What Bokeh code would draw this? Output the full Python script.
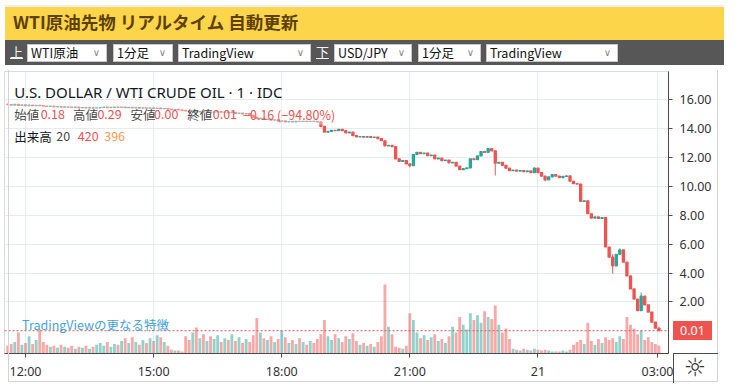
import numpy as np
from bokeh.plotting import figure
from bokeh.models import (Range1d, FixedTicker, PrintfTickFormatter, Label, Span,
                          BoxAnnotation, Div, ColumnDataSource)
from bokeh.layouts import column
from bokeh.embed import file_html
from bokeh.resources import INLINE

# ---------------- data ----------------
close = [
    15.65, 15.62, 15.66, 15.60, 15.63, 15.58, 15.61, 15.57, 15.60, 15.58,
    15.55, 15.52, 15.54, 15.50, 15.51, 15.47, 15.50, 15.48, 15.45, 15.47,
    15.43, 15.45, 15.42, 15.44, 15.41, 15.43, 15.45, 15.47, 15.44, 15.46,
    15.48, 15.45, 15.47, 15.44, 15.46, 15.43, 15.45, 15.41, 15.43, 15.40,
    15.42, 15.38, 15.40, 15.37, 15.38, 15.34, 15.30, 15.32, 15.28, 15.25,
    15.22, 15.19, 15.21, 15.15, 15.17, 15.13, 15.15, 15.12, 15.14, 15.16,
    15.12, 15.14, 15.10, 15.12, 15.05, 15.07, 15.00, 15.02, 14.90, 14.76,
    14.68, 14.70, 14.62, 14.64, 14.58, 14.60, 14.50, 14.52, 14.45, 14.47,
    14.45, 14.50, 14.48, 14.50, 14.49, 14.50, 14.48, 14.45, 14.15, 13.75,
    13.80, 13.87, 13.84, 13.93, 13.85, 13.70, 13.74, 13.50, 13.42, 13.44,
    13.40, 13.43, 13.39, 13.41, 13.30, 13.15, 12.80, 12.84, 12.75, 11.90,
    11.72, 11.78, 11.55, 11.42, 12.20, 12.35, 12.25, 12.30, 12.12, 12.16,
    11.90, 11.95, 11.78, 11.82, 11.62, 11.66, 11.40, 11.15, 11.22, 11.27,
    11.90, 11.85, 12.10, 12.40, 12.35, 12.60, 12.45, 11.60, 11.66, 11.45,
    11.25, 11.08, 11.12, 11.05, 11.09, 11.02, 11.06, 10.95, 11.25, 10.95,
    10.70, 10.45, 10.65, 10.80, 10.70, 10.60, 10.68, 10.72, 10.35, 10.18,
    10.15, 8.95, 9.00, 8.10, 7.80, 7.88, 7.78, 7.84, 5.80, 5.10,
    4.50, 5.30, 5.60, 4.75, 3.80, 2.90, 2.20, 1.40, 2.40, 1.80,
    1.30, 0.60, 0.18, 0.01,
]
first_open = 15.68

volume = [
    400, 500, 600, 1100, 450, 550, 900, 500, 700, 1250,
    600, 450, 350, 400, 300, 450, 350, 300, 400, 250,
    350, 300, 400, 250, 350, 450, 550, 400, 600, 350,
    500, 450, 650, 800, 550, 850, 600, 450, 700, 550,
    800, 650, 950, 850, 600, 400, 200, 150, 150, 100,
    900, 700, 1100, 1350, 800, 1000, 650, 900, 750, 950,
    600, 800, 700, 1000, 650, 850, 550, 750, 600, 950,
    1850, 1100, 800, 700, 900, 600, 750, 1200, 850, 550,
    700, 500, 800, 600, 450, 650, 550, 750, 1000, 1750,
    900, 700, 1000, 800, 600, 900, 750, 1050, 650, 450,
    550, 400, 500, 350, 600, 900, 3600, 1400, 1000, 350,
    300, 250, 400, 2100, 1750, 1100, 800, 950, 700, 850,
    1000, 650, 750, 550, 900, 1400, 1100, 1900, 1500, 1250,
    2100, 1750, 2000, 1600, 2200, 1900, 1800, 2500, 1500, 1100,
    1300, 750, 250, 200, 150, 250, 200, 150, 250, 200,
    150, 200, 150, 100, 100, 100, 150, 100, 200, 450,
    600, 700, 500, 1600, 650, 450, 750, 550, 850, 700,
    800, 600, 900, 750, 1900, 1500, 1300, 1000, 1200, 700,
    850, 600, 500, 420,
]

spike_index = [113, 137, 148, 151, 170, 172, 178, 183]
spike_high = [11.42, 12.45, 11.30, 10.45, 5.30, 5.70, 2.65, 0.29]
spike_low = [11.30, 10.75, 10.95, 10.35, 3.95, 5.25, 1.80, 0.00]

# bar times: minutes from 12:00 (5-minute bars)
bar_minutes = list(range(-25, -25 + 5 * len(close), 5))

time_ticks = [0, 180, 360, 540, 720, 888]
time_labels = ["12:00", "15:00", "18:00", "21:00", "21", "03:00"]
price_ticks = [2, 4, 6, 8, 10, 12, 14, 16]
last_price = 0.01

legend_open, legend_high, legend_low, legend_close = "0.18", "0.29", "0.00", "0.01"
legend_change = "−0.16 (−94.80%)"
vol_len, vol_now, vol_ma = "20", "420", "396"

# ---------------- derived ----------------
opens = [first_open] + close[:-1]
up = [c >= o for o, c in zip(opens, close)]
UP, DN = "#26a69a", "#ef5350"
src = ColumnDataSource(dict(
    t=bar_minutes,
    top=[max(o, c) for o, c in zip(opens, close)],
    bot=[min(o, c) for o, c in zip(opens, close)],
    vol=volume,
    color=[UP if u else DN for u in up],
))
wick = ColumnDataSource(dict(
    t=[bar_minutes[i] for i in spike_index],
    hi=spike_high, lo=spike_low,
    color=[UP if up[i] else DN for i in spike_index],
))

# ---------------- header (title bar + selector bar) ----------------
def sel(left, width, text):
    return (f'<div style="position:absolute;left:{left}px;top:39px;width:{width}px;height:18px;'
            f'background:#fff;border:1px solid #c8c8c8;box-sizing:border-box;font-size:12.5px;'
            f'line-height:16px;color:#111;padding-left:3px;white-space:nowrap;">{text}'
            f'<span style="position:absolute;right:6px;top:0px;color:#888;font-size:10px;'
            f'font-family:DejaVu Sans;">∨</span></div>')

head_html = (
    '<div style="position:relative;width:719px;height:60px;overflow:hidden;'
    'font-family:\'Noto Sans CJK JP\',sans-serif;">'
    '<div style="position:absolute;left:0;top:0;width:719px;height:2px;background:#eeeeee;"></div>'
    '<div style="position:absolute;left:0;top:2px;width:719px;height:33px;background:#fdd54b;"></div>'
    '<div style="position:absolute;left:8px;top:4px;font-size:17.5px;line-height:26px;font-weight:bold;'
    'color:#5e4106;white-space:nowrap;">WTI原油先物 リアルタイム 自動更新</div>'
    '<div style="position:absolute;left:0;top:35px;width:719px;height:25px;background:#575757;"></div>'
    '<div style="position:absolute;left:5px;top:38px;font-size:13px;line-height:18px;color:#f4f4f4;'
    'text-decoration:underline;">上</div>'
    + sel(22, 80, "WTI原油") + sel(108, 60, "1分足") + sel(173, 133, "TradingView")
    + '<div style="position:absolute;left:311px;top:38px;font-size:13px;line-height:18px;color:#f4f4f4;'
      'text-decoration:underline;">下</div>'
    + sel(329, 78, "USD/JPY") + sel(413, 63, "1分足") + sel(481, 132, "TradingView")
    + '</div>'
)
header = Div(text=head_html, width=719, height=60)

# ---------------- chart ----------------
p = figure(width=719, height=315, x_range=Range1d(-29.5, 903.4), y_range=Range1d(-1.566, 17.94),
           output_backend="svg", toolbar_location=None, y_axis_location="right",
           min_border_left=4, min_border_right=51, min_border_top=1, min_border_bottom=32)
p.extra_y_ranges = {"vol": Range1d(0, 14700)}
p.background_fill_color = "white"
p.border_fill_color = "white"
p.outline_line_color = "#d6dce3"

GRID = "#e3ecf2"
p.xgrid.ticker = FixedTicker(ticks=time_ticks)
p.ygrid.ticker = FixedTicker(ticks=price_ticks)
p.xgrid.grid_line_color = GRID
p.ygrid.grid_line_color = GRID

xa = p.xaxis[0]
xa.ticker = FixedTicker(ticks=time_ticks)
xa.major_label_overrides = {t: l for t, l in zip(time_ticks, time_labels)}
ya = p.yaxis[0]
ya.ticker = FixedTicker(ticks=price_ticks)
ya.formatter = PrintfTickFormatter(format="%.2f")
for ax in (xa, ya):
    ax.axis_line_color = "#4a4a4a"
    ax.major_tick_line_color = "#4a4a4a"
    ax.minor_tick_line_color = None
    ax.major_tick_in = 0
    ax.major_tick_out = 4
    ax.major_label_text_color = "#333333"
    ax.major_label_text_font = "Noto Sans"
    ax.major_label_text_font_size = "12.5px"
xa.major_label_standoff = 5
ya.major_label_standoff = 7

# volume
p.vbar(x="t", top="vol", bottom=0, width=4.0, source=src, y_range_name="vol",
       fill_color="color", fill_alpha=0.5, line_color=None)

# candles
p.segment(x0="t", x1="t", y0="lo", y1="hi", source=wick, line_color="color", line_width=1)
p.vbar(x="t", top="top", bottom="bot", width=3.0, source=src,
       fill_color="color", line_color="color", line_width=1.2)

# last price line
p.add_layout(Span(location=last_price, dimension="width", line_color="#ef5350",
                  line_dash="2 2", line_width=1))

# legend veil (fades the candles under the legend)
p.add_layout(BoxAnnotation(left=-29.5, right=439, top=15.95, bottom=14.25,
                           fill_color="white", fill_alpha=0.35, line_color=None))

JP = "Noto Sans CJK JP"
def lab(x, y, text, color, size="12.5px", font=JP, **kw):
    p.add_layout(Label(x=x, y=y, text=text, text_color=color, text_font_size=size,
                       text_font=font, text_baseline="middle", **kw))

lab(-15.8, 16.55, "U.S. DOLLAR / WTI CRUDE OIL · 1 · IDC", "#131722", size="15px", font="Noto Sans")
G, R = "#4a4a4a", "#ef5350"
lab(-15.8, 15.0, "始値", G); lab(21.3, 15.0, legend_open, R)
lab(66.6, 15.0, "高値", G); lab(101.0, 15.0, legend_high, R)
lab(147.7, 15.0, "安値", G); lab(180.7, 15.0, legend_low, R)
lab(227.4, 15.0, "終値", G); lab(263.1, 15.0, legend_close, R)
lab(305.7, 15.0, legend_change, R)
lab(-15.8, 13.45, "出来高", "#131722"); lab(43.3, 13.45, vol_len, G)
lab(73.5, 13.45, vol_now, R); lab(110.6, 13.45, vol_ma, "#f59a4f")
lab(-4.8, 0.44, "TradingViewの更なる特徴", "#45a3e0", size="12.5px")

# ---------------- overlay for things outside the plot frame ----------------
# (outer widget border, axis-corner lines, last-price badge, settings icon)
badge_top = 251
over_html = (
    '<div style="position:relative;width:719px;height:315px;pointer-events:none;'
    'font-family:\'Noto Sans\',sans-serif;">'
    '<div style="position:absolute;left:3px;top:0px;width:710px;height:312px;'
    'border:1px solid #d4d4d4;border-top:none;box-sizing:border-box;"></div>'
    '<div style="position:absolute;left:668px;top:283px;width:1px;height:30px;background:#4a4a4a;"></div>'
    '<div style="position:absolute;left:668px;top:283px;width:45px;height:1px;background:#4a4a4a;"></div>'
    f'<div style="position:absolute;left:668px;top:{badge_top}px;width:39px;height:19px;'
    'background:#ef5350;color:#fff;font-size:12.5px;line-height:19px;text-align:center;">'
    f'{last_price:.2f}</div>'
    '<div style="position:absolute;left:674px;top:283px;width:32px;height:30px;color:#333;'
    'font-family:\'DejaVu Sans\';font-size:25px;line-height:30px;text-align:center;">☼</div>'
    '</div>'
)
overlay = Div(text=over_html, width=719, height=315,
              styles={"margin-top": "-315px", "position": "relative", "z-index": "10"})

layout = column(header, p, overlay, spacing=0)
open("out.html", "w").write(file_html(layout, INLINE))
